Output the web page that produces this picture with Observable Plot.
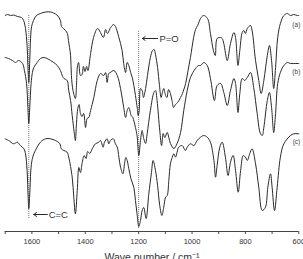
<!DOCTYPE html>
<html>
<head>
<meta charset="utf-8">
<script src="https://cdn.jsdelivr.net/npm/d3@7"></script>
<script src="https://cdn.jsdelivr.net/npm/@observablehq/plot@0.6"></script>
<style>
  html, body { margin: 0; padding: 0; background: #fff; }
  #chart { width: 303px; height: 259px; overflow: hidden; }
</style>
</head>
<body>
<div id="chart"></div>
<script>
// Wave numbers (cm^-1) and offset transmittance readings for the three spectra
const waveA = [1700,1691,1680,1669,1654,1639,1631,1624,1618,1615,1611.6,1608,1605,1601,1594,1583,1568,1549,1530,1519,1504,1493,1489,1482,1474,1467,1463,1455,1452,1446,1437,1433,1429,1425,1418,1412,1407,1401,1395,1390,1380,1369,1354,1343,1332,1324,1317,1305,1294,1287,1275,1262,1256,1249,1243,1237,1230,1224,1218,1212,1205,1201.7,1198,1193,1187,1182,1174,1167,1156,1148,1142,1137,1129,1122,1116,1111,1106,1099,1094,1088,1081,1075,1069,1062,1054,1043,1036,1024,1015,1006,994,987,979,968,957,942,931,920,913,906,893,887,881,868,856,843,837,828,821,812,806,800,793,781,775,762,750,741,731,718,710,702,694,687,679,669,656,643,631,619,606,600];
const transA = [216,217,216,216.5,215,214,211,203,186,166,149,171,193,205,211,216,218,219.5,219.5,218.5,216,211,205,203,201,198,191,176,156,141,133,146,166,169,156,157,165,160,165,161,178,194,203,199,194,202,198,204,207,205,195,181,168,159,169,166,159,154,146,136,123,116,121,143,141,134,143,156,174,181,182,177,164,146,134,139,143,136,134,142,138,131,124,127,129,134,138,148,161,174,194,202,206,213,216,213,198,181,176,193,194,193,188,171,188,199,194,166,181,199,201,198,203,206,201,171,151,138,151,176,186,171,143,164,194,208,216,218,216,217,216,216];

const waveB = [1700,1688,1673,1661,1650,1635,1628,1620,1615,1611.6,1608,1603,1598,1593,1580,1568,1555,1543,1530,1518,1505,1493,1485,1480,1468,1462,1455,1449,1440,1437,1433,1428,1423,1418,1412,1406,1399,1393,1387,1380,1368,1355,1343,1331,1324,1318,1312,1306,1293,1280,1268,1256,1249,1243,1237,1228,1222,1212,1206,1199.4,1193,1187,1181,1174,1168,1156,1143,1137,1131,1121,1114,1108,1102,1093,1087,1081,1068,1056,1043,1031,1018,1006,987,976,968,956,943,931,916,906,893,881,868,856,843,837,828,821,812,803,793,781,769,756,744,737,731,718,710,702,694,687,679,669,656,643,631,619,600];
const transB = [174,173,171,169,171,168,161,148,124,108,124,148,159,164,169,173,174,173,171,169,166,161,155,153,151,141,131,116,96,91,108,123,127,118,115,118,104,113,114,121,134,151,158,156,159,149,158,159,161,156,143,124,114,121,124,116,114,104,96,76,91,101,93,88,98,121,139,141,131,101,86,98,94,99,94,88,83,88,99,121,141,154,163,166,166,169,166,153,131,146,148,139,126,141,153,148,119,138,153,151,154,159,144,118,98,96,104,131,139,124,99,118,148,159,166,169,168,168,168];

const waveC = [1700,1687,1668,1655,1643,1630,1624,1618,1614,1611.6,1608,1603,1597,1587,1568,1549,1530,1512,1495,1490,1480,1468,1462,1449,1443,1437,1430,1424,1418,1412,1404,1397,1391,1383,1374,1362,1349,1343,1333,1328,1318,1312,1306,1295,1287,1280,1274,1268,1259,1253,1248,1243,1237,1229,1218,1212,1206,1199.4,1193,1187,1181,1172,1162,1152,1146,1137,1129,1121,1113,1106,1099,1093,1087,1081,1074,1068,1062,1056,1050,1037,1025,1018,1006,993,981,968,956,943,931,918,912,906,896,887,875,865,856,846,837,827,818,808,800,793,784,775,762,750,737,725,716,706,700,691,681,669,656,631,619,600];
const transC = [92.7,91,87.7,89.3,86,82.7,77.7,61,34.3,22.7,37.7,64.3,74.3,81,89.3,92.7,92.7,91,87.7,82.7,81,79.3,74.3,54.3,34.3,17.7,41,64,59,68,76,73,80,78,82.7,87.7,89.3,91,84.3,89.3,92.7,87.7,91,92.7,87.7,84.3,74.3,64.3,57.7,67.7,74,71,63,53,44,31,17.7,5,11,21,24,13,37.7,59,71,61,46,26,16,24.3,34.3,36,51,67.7,74.3,77.7,74.3,79.3,84.3,86,81,84.3,87.7,86,91,94.3,96,94.3,89.3,71,54.3,66,84.3,89.3,74.3,56,69.3,76,61,39.3,61,76,74.3,71,77.7,82.7,67.7,44.3,21,24.3,44.3,57.7,44.3,21,44.3,74.3,87.7,96,97.7,97.7];

const seriesLabels = ["(a)", "(b)", "(c)"];
const labelLevels = [207, 159.5, 89.5];

const bandWave = [1611.6, 1200];
const bandTop = [217, 200];
const bandBottom = [13, 3];
const bandNames = ["C=C", "P=O"];
const arrowFrom = [1542, 1129];
const arrowTo = [1593, 1186];
const arrowLevel = [17, 193];
const bandTextWave = [1537, 1122];

const tickValues = d3.range(600, 1701, 100);

const toRows = (w, t) => w.map((d, i) => ({wn: d, t: t[i]}));
const spectra = [toRows(waveA, transA), toRows(waveB, transB), toRows(waveC, transC)];
const labelRows = seriesLabels.map((s, i) => ({s, t: labelLevels[i]}));
const bands = bandNames.map((n, i) => ({
  name: n, wn: bandWave[i], top: bandTop[i], bottom: bandBottom[i],
  a1: arrowFrom[i], a2: arrowTo[i], lvl: arrowLevel[i], tw: bandTextWave[i]
}));

const ink = "#2a2a2a";

const chart = Plot.plot({
  width: 303,
  height: 259,
  marginLeft: 4.7,
  marginRight: 4.7,
  marginTop: 0,
  marginBottom: 28,
  style: {fontFamily: "'Liberation Sans', Arial, sans-serif", background: "#fff", overflow: "visible"},
  x: {domain: [1700, 600]},
  y: {domain: [0, 231], axis: null},
  marks: [
    Plot.ruleX(bands, {x: "wn", y1: "bottom", y2: "top", stroke: "#777", strokeWidth: 1, strokeDasharray: "1,1"}),
    ...spectra.map(rows => Plot.line(rows, {x: "wn", y: "t", curve: "catmull-rom", stroke: ink, strokeWidth: 1})),
    Plot.arrow(bands, {x1: "a1", x2: "a2", y1: "lvl", y2: "lvl", stroke: ink, strokeWidth: 1, headLength: 5, headAngle: 70}),
    Plot.text(bands, {x: "tw", y: "lvl", text: "name", textAnchor: "start", fontSize: 9.5, fill: "#333"}),
    Plot.text(labelRows, {x: 600, y: "t", text: "s", textAnchor: "end", dx: 1.5, fontSize: 6.5, fill: "#444"}),
    Plot.ruleY([0], {stroke: "#444", strokeWidth: 1}),
    Plot.axisX({ticks: tickValues, tickFormat: d => d % 200 === 0 ? String(d) : "", tickSize: 3, tickPadding: 4, fontSize: 7.5, label: null, stroke: "#444", color: "#333"}),
    Plot.text(["Wave number / cm\u207B\u00B9"], {frameAnchor: "bottom", text: d => d, dy: 29.5, lineAnchor: "bottom", fontSize: 10.5, fill: "#333"})
  ]
});
document.getElementById("chart").appendChild(chart);
</script>
</body>
</html>
